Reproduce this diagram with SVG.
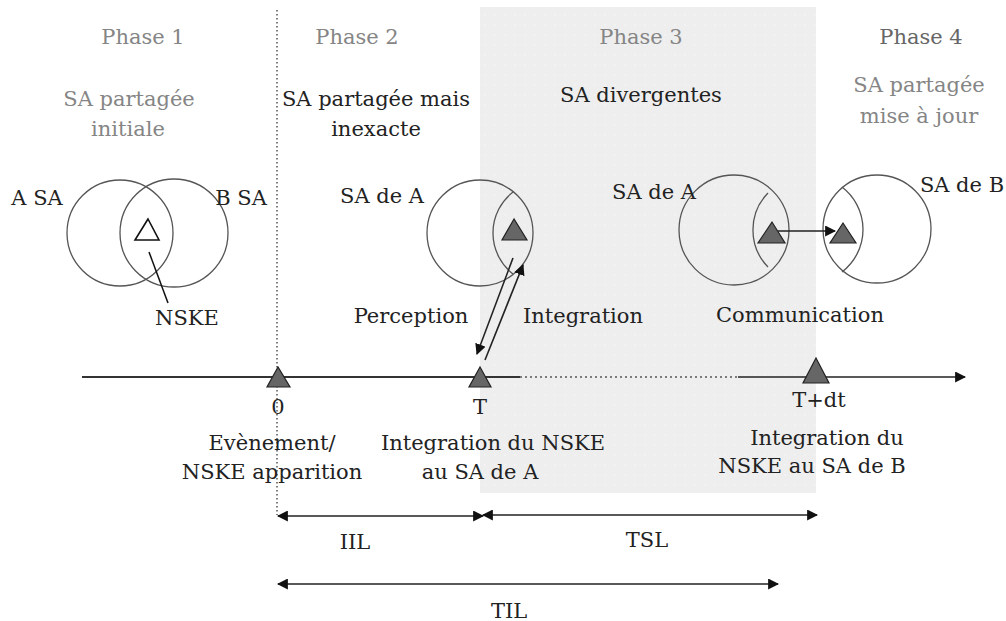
<svg xmlns="http://www.w3.org/2000/svg" width="1006" height="621" viewBox="0 0 1006 621">
<style>
text{font-family:"DejaVu Serif","Liberation Serif",serif;font-size:21px;text-anchor:middle;fill:#222}
.g{fill:#858585}
.circ{fill:none;stroke:#555;stroke-width:1.3}
.tri{fill:#666;stroke:#222;stroke-width:1.2}
.ln{stroke:#222;stroke-width:1.6;fill:none}
</style>
<defs>
<marker id="ah" viewBox="0 0 10 10" refX="9" refY="5" markerWidth="8" markerHeight="8" markerUnits="userSpaceOnUse" orient="auto-start-reverse">
<path d="M0,0 L10,5 L0,10 z" fill="#111"/>
</marker>
<marker id="ahb" viewBox="0 0 10 10" refX="9" refY="5" markerWidth="11" markerHeight="11" markerUnits="userSpaceOnUse" orient="auto-start-reverse">
<path d="M0,0 L10,5 L0,10 z" fill="#111"/>
</marker>
<pattern id="dots" width="10" height="10" patternUnits="userSpaceOnUse">
<rect width="10" height="10" fill="#eeeeee"/>
<circle cx="5" cy="5" r="0.7" fill="#fafafa"/>
</pattern>
</defs>

<g id="phase3-bg">
<rect x="480" y="7" width="336" height="486" fill="url(#dots)"/>
</g>

<g id="phase-divider">
<line x1="277" y1="10" x2="277" y2="515" stroke="#555" stroke-width="1.5" stroke-dasharray="1.5 2.5"/>
</g>

<g id="phase-titles">
<text class="g" x="143" y="44">Phase 1</text>
<text class="g" x="357" y="44">Phase 2</text>
<text class="g" x="641" y="44">Phase 3</text>
<text x="921" y="44" style="fill:#666">Phase 4</text>
<text class="g" x="129" y="106">SA partagée</text>
<text class="g" x="128" y="136">initiale</text>
<text x="376" y="106">SA partagée mais</text>
<text x="376" y="136">inexacte</text>
<text x="641" y="102">SA divergentes</text>
<text class="g" x="919" y="92">SA partagée</text>
<text class="g" x="919" y="123">mise à jour</text>
</g>

<g id="phase1-venn">
<circle class="circ" cx="120" cy="233" r="53"/>
<circle class="circ" cx="174" cy="233" r="54"/>
<polygon points="148,219 135,240 159,240" fill="#fff" stroke="#111" stroke-width="1.6"/>
<line x1="149" y1="252" x2="168" y2="303" stroke="#111" stroke-width="1.5"/>
<text x="37" y="205">A SA</text>
<text x="241" y="205">B SA</text>
<text x="187" y="325">NSKE</text>
</g>

<g id="phase2-sa">
<circle class="circ" cx="480" cy="233" r="53"/>
<path class="circ" d="M513,192 A52,52 0 0,0 513,274"/>
<polygon class="tri" points="514,219 502,240 527,240"/>
<text x="382" y="203">SA de A</text>
<text x="411" y="323">Perception</text>
<text x="583" y="323">Integration</text>
</g>

<g id="phase3-sa">
<circle class="circ" cx="734" cy="230" r="55"/>
<path class="circ" d="M768,193 A53,53 0 0,0 768,267"/>
<polygon class="tri" points="772,222 758,243 785,243"/>
<text x="654" y="199">SA de A</text>
<text x="800" y="322">Communication</text>
</g>

<g id="phase4-sa">
<circle class="circ" cx="877" cy="229" r="54"/>
<path class="circ" d="M842,187 A53.5,53.5 0 0,1 842,272"/>
<polygon class="tri" points="843,223 830,243 856,243"/>
<text x="962" y="192">SA de B</text>
</g>

<g id="connectors">
<line class="ln" x1="513" y1="258" x2="477" y2="354" marker-end="url(#ahb)"/>
<line class="ln" x1="485" y1="360" x2="523" y2="265" marker-end="url(#ahb)"/>
<line class="ln" x1="778" y1="231" x2="835" y2="231" marker-end="url(#ahb)"/>
<line x1="82" y1="377" x2="520" y2="377" stroke="#333" stroke-width="2"/>
<line x1="520" y1="377" x2="738" y2="377" stroke="#555" stroke-width="1.5" stroke-dasharray="2 3"/>
<line class="ln" x1="738" y1="377" x2="965" y2="377" marker-end="url(#ahb)"/>
<line class="ln" x1="278" y1="516" x2="483" y2="516" marker-start="url(#ahb)" marker-end="url(#ahb)"/>
<line class="ln" x1="483" y1="515" x2="817" y2="515" marker-start="url(#ahb)" marker-end="url(#ahb)"/>
<line class="ln" x1="278" y1="584" x2="778" y2="584" marker-start="url(#ahb)" marker-end="url(#ahb)"/>
</g>

<g id="timeline-events">
<polygon class="tri" points="278,367 267,387 290,387"/>
<polygon class="tri" points="480,367 469,387 491,387"/>
<polygon class="tri" points="816,358 803,383 829,383"/>
<text x="278" y="414">0</text>
<text x="480" y="414">T</text>
<text x="819" y="407">T+dt</text>
<text x="272" y="450">Evènement/</text>
<text x="272" y="479">NSKE apparition</text>
<text x="493" y="450">Integration du NSKE</text>
<text x="480" y="479">au SA de A</text>
<text x="827" y="445">Integration du</text>
<text x="812" y="473">NSKE au SA de B</text>
</g>

<g id="durations">
<text x="355" y="549">IIL</text>
<text x="647" y="547">TSL</text>
<text x="509" y="618">TIL</text>
</g>
</svg>
